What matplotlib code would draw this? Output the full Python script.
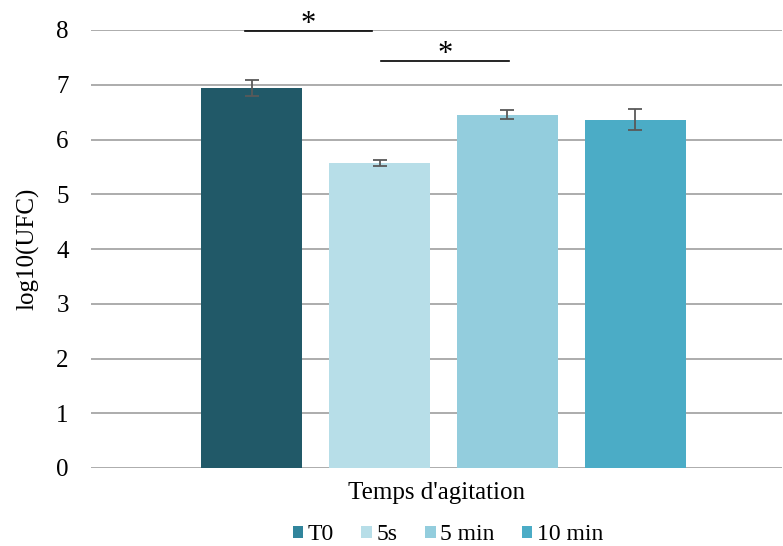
import matplotlib
matplotlib.use("Agg")
import matplotlib.pyplot as plt
from matplotlib.patches import Patch
import numpy as np

categories = ["T0", "5s", "5 min", "10 min"]
values = [6.94, 5.57, 6.45, 6.36]
errors = [0.15, 0.06, 0.08, 0.19]
bar_colors = ["#215968", "#B7DEE8", "#93CDDD", "#4BACC6"]
legend_colors = ["#31859C", "#B7DEE8", "#93CDDD", "#4BACC6"]
y_ticks = [0, 1, 2, 3, 4, 5, 6, 7, 8]
x_label = "Temps d'agitation"
y_label = "log10(UFC)"
# significance brackets: (x start, x end, height, label)
sig_brackets = [(-0.055, 0.94, 7.99, "*"), (1.01, 2.01, 7.44, "*")]

plt.rcParams['font.family'] = ['Liberation Serif', 'DejaVu Serif']

fig = plt.figure(figsize=(7.83, 5.46), dpi=100)
ax = fig.add_axes([91/783, 1 - 468/546, (782 - 91)/783, (468 - 30)/546])

x = np.arange(len(categories))
ax.bar(x, values, width=0.79, color=bar_colors, zorder=2)
ax.errorbar(x, values, yerr=errors, fmt='none', ecolor='#595959',
            elinewidth=1.3, capsize=5, capthick=1.3, zorder=3)

ax.set_ylim(0, 8)
ax.set_xlim(-1.26, 4.15)
ax.set_yticks(y_ticks)
ax.set_xticks([])
ax.yaxis.grid(True, color='#A6A6A6', linewidth=1.3)
ax.set_axisbelow(True)
for s in ax.spines.values():
    s.set_visible(False)
ax.tick_params(axis='y', length=0, pad=16, labelsize=18)
ax.set_ylabel(y_label, fontsize=18, labelpad=12)
ax.set_xlabel(x_label, fontsize=18, labelpad=10)

for x0, x1, h, lab in sig_brackets:
    ax.plot([x0, x1], [h, h], color='black', linewidth=1.2, clip_on=False, zorder=4)
    ax.text((x0 + x1) / 2, h - 0.15, lab, ha='center', va='bottom',
            fontsize=22, clip_on=False)

handles = [Patch(facecolor=c, edgecolor='none') for c in legend_colors]
fig.legend(handles, categories, loc='center', bbox_to_anchor=(448/783, 1 - 535/546),
           ncol=4, frameon=False, fontsize=17, handlelength=0.45, handleheight=0.45,
           handletextpad=0.2, columnspacing=1.15)

fig.savefig("out.png", dpi=100)
